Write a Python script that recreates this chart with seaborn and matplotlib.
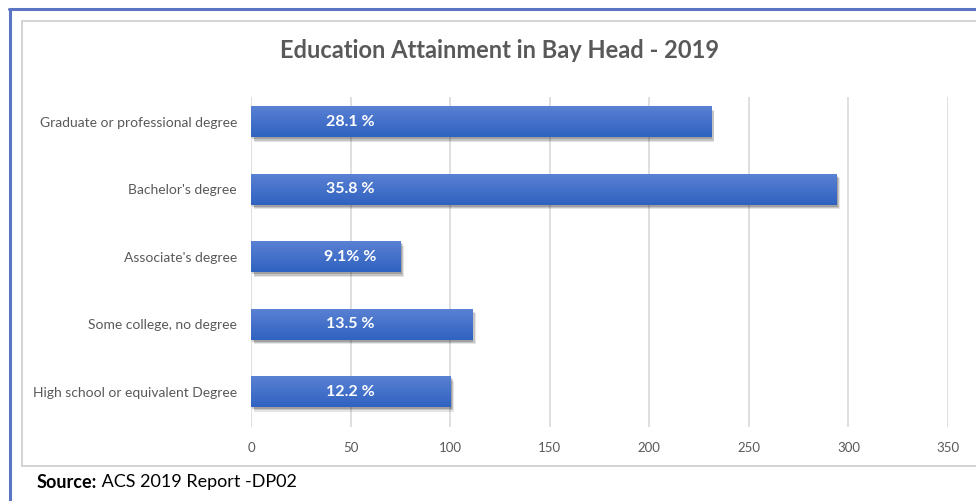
import numpy as np
import pandas as pd
import matplotlib
matplotlib.use("Agg")
import matplotlib.pyplot as plt
import matplotlib.patheffects as pe
from matplotlib.colors import LinearSegmentedColormap
from matplotlib.lines import Line2D
import seaborn as sns

categories = ["Graduate or professional degree", "Bachelor's degree",
              "Associate's degree", "Some college, no degree",
              "High school or equivalent Degree"]
values = [231, 294, 75, 111, 100]
bar_labels = ["28.1 %", "35.8 %", "9.1% %", "13.5 %", "12.2 %"]
x_ticks = [0, 50, 100, 150, 200, 250, 300, 350]
title = "Education Attainment in Bay Head - 2019"

sns.set_theme(style="white")
plt.rcParams['font.family'] = ['Lato', 'DejaVu Sans']

W, H = 976, 501
fig = plt.figure(figsize=(W / 100, H / 100), dpi=100)
fig.patch.set_facecolor("white")

def fx(px):
    return px / W

def fy(py):
    return 1 - py / H

ax = fig.add_axes([fx(251), fy(427), fx(948) - fx(251), fy(97) - fy(427)])

df = pd.DataFrame({"category": categories, "value": values})
sns.barplot(data=df, x="value", y="category", color="#3D6CC8",
            width=0.46, ax=ax, zorder=3)

cmap = LinearSegmentedColormap.from_list("g", ["#5B82D4", "#2F62C0"])
grad = np.linspace(0, 1, 64).reshape(-1, 1)
for p in ax.patches:
    p.set_edgecolor("none")
    p.set_path_effects([
        pe.SimplePatchShadow(offset=(2.5, -3), shadow_rgbFace="black", alpha=0.10),
        pe.SimplePatchShadow(offset=(1.8, -2.2), shadow_rgbFace="black", alpha=0.14),
        pe.SimplePatchShadow(offset=(1.0, -1.4), shadow_rgbFace="black", alpha=0.18),
        pe.Normal()])
    x0, y0 = p.get_x(), p.get_y()
    w, h = p.get_width(), p.get_height()
    im = ax.imshow(grad, cmap=cmap, aspect="auto",
                   extent=(x0, x0 + w, y0 + h, y0), zorder=4,
                   interpolation="bilinear")
    im.set_clip_path(p)

for i, lab in enumerate(bar_labels):
    ax.text(50, i, lab, ha="center", va="center", color="white",
            fontsize=11.5, fontweight="bold", zorder=6)

ax.set_xlim(0, 350)
ax.set_ylim(4.52, -0.37)
ax.set_xticks(x_ticks)
ax.set_xticklabels([str(t) for t in x_ticks])
ax.grid(axis="x", color="#D9D9D9", linewidth=1.2, zorder=0)
ax.grid(axis="y", visible=False)
for s in ax.spines.values():
    s.set_visible(False)
ax.tick_params(axis="y", length=0, pad=10, labelsize=10, labelcolor="#595959")
ax.tick_params(axis="x", length=0, pad=11, labelsize=9.5, labelcolor="#595959")
ax.set_xlabel("")
ax.set_ylabel("")

fig.text(fx(500), fy(50), title, ha="center", va="center", fontsize=17,
         fontweight="bold", color="#595959")

# frames
fig.add_artist(Line2D([fx(10), fx(10)], [fy(9), 0], color="#5B74C4", lw=2.2,
                      transform=fig.transFigure))
fig.add_artist(Line2D([fx(9), 1], [fy(9), fy(9)], color="#5B74C4", lw=2.2,
                      transform=fig.transFigure))
fig.add_artist(Line2D([fx(22), fx(22), 1.01], [fy(466), fy(21), fy(21)],
                      color="#D0D0D0", lw=1.3, transform=fig.transFigure))
fig.add_artist(Line2D([fx(22), 1.01], [fy(466), fy(466)],
                      color="#D0D0D0", lw=1.3, transform=fig.transFigure))

t1 = fig.text(fx(37), fy(482), "Source:", ha="left", va="center",
              fontsize=13, fontweight="bold", color="black")
ax.annotate(" ACS 2019 Report -DP02", xy=(1, 0.5), xycoords=t1,
            ha="left", va="center", fontsize=13, color="black",
            annotation_clip=False)

fig.savefig("out.png", dpi=100, facecolor="white")
